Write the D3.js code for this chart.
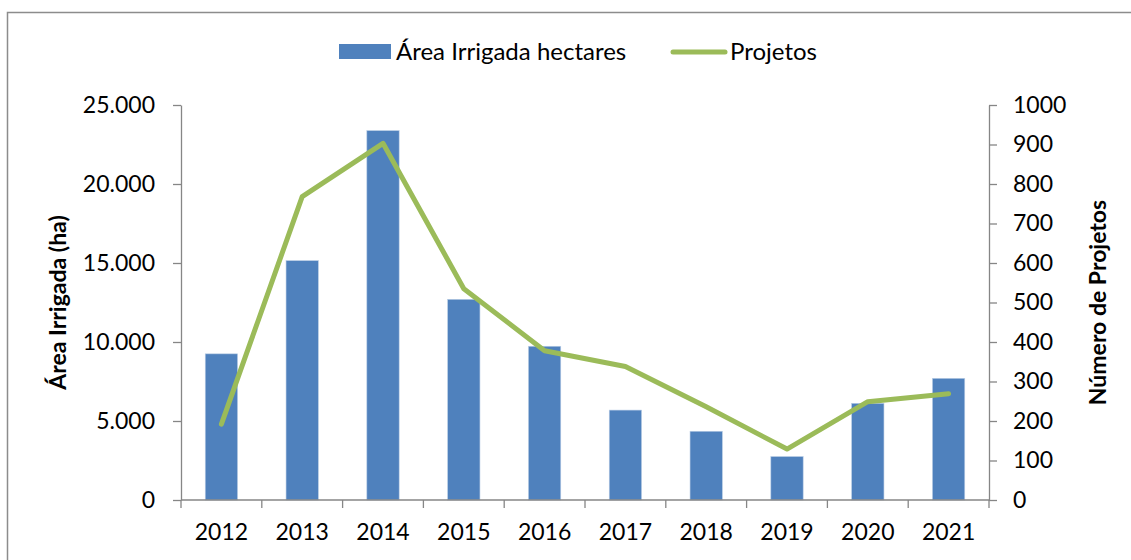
<meta charset="utf-8">
<style>
  body { margin: 0; background: #fff; }
  svg text { font-family: Lato, "Open Sans", sans-serif; fill: #000; }
  .axis path, .axis line { stroke: #868686; stroke-width: 1.3px; }
  .axis text { font-size: 23px; font-family: Lato, "Open Sans", sans-serif; }
  .ytitle { font-size: 23px; font-weight: bold; }
  .legend text { font-size: 24px; }
</style>
<div id="chart"></div>
<script src="https://d3js.org/d3.v7.min.js"></script>
<script>
var years = ["2012", "2013", "2014", "2015", "2016", "2017", "2018", "2019", "2020", "2021"];
var areaHa = [9250, 15150, 23380, 12700, 9730, 5690, 4350, 2750, 6120, 7700];
var projetos = [192, 768, 903, 535, 378, 338, 236, 129, 249, 269];
var areaTicks = [0, 5000, 10000, 15000, 20000, 25000];
var projTicks = [0, 100, 200, 300, 400, 500, 600, 700, 800, 900, 1000];

var W = 1131, H = 560;
var margin = {top: 105, right: 142, bottom: 60, left: 181};
var width = W - margin.left - margin.right,
    height = H - margin.top - margin.bottom;

var svg = d3.select("#chart").append("svg")
    .attr("width", W)
    .attr("height", H);

// outer frame (runs off the picture at right and bottom)
svg.append("rect")
    .attr("x", 7.5).attr("y", 12.5)
    .attr("width", W + 20).attr("height", H + 20)
    .attr("fill", "none")
    .attr("stroke", "#8c8c8c")
    .attr("stroke-width", 1.5);

var g = svg.append("g")
    .attr("transform", "translate(" + margin.left + "," + margin.top + ")");

var x = d3.scaleBand().domain(years).range([0, width]);
var yL = d3.scaleLinear().domain([0, 25000]).range([height, 0]);
var yR = d3.scaleLinear().domain([0, 1000]).range([height, 0]);

var fmt = function (d) { return d === 0 ? "0" : d3.format(",")(d).replace(/,/g, "."); };

// bars
var barW = x.bandwidth() / 2.5;
g.selectAll("rect.bar")
    .data(years)
    .enter().append("rect")
    .attr("class", "bar")
    .attr("x", function (d) { return x(d) + (x.bandwidth() - barW) / 2; })
    .attr("y", function (d, i) { return yL(areaHa[i]); })
    .attr("width", barW)
    .attr("height", function (d, i) { return height - yL(areaHa[i]); })
    .attr("fill", "#4f81bd")
    .attr("stroke", "#b9cde5")
    .attr("stroke-width", 0.6);

// axes
var xAxis = g.append("g")
    .attr("class", "axis")
    .attr("transform", "translate(0," + height + ")")
    .call(d3.axisBottom(x).tickSize(0).tickPadding(18));
xAxis.select(".domain").attr("d", "M0,0H" + width);
xAxis.selectAll(".tick text").attr("dy", "0.95em");
// category boundaries
xAxis.selectAll("line.sep")
    .data(d3.range(years.length + 1))
    .enter().append("line")
    .attr("class", "sep")
    .attr("x1", function (i) { return i * x.step(); })
    .attr("x2", function (i) { return i * x.step(); })
    .attr("y1", 0).attr("y2", 8);

g.append("g")
    .attr("class", "axis")
    .call(d3.axisLeft(yL).tickValues(areaTicks).tickFormat(fmt).tickSize(8).tickSizeOuter(0).tickPadding(18));

g.append("g")
    .attr("class", "axis")
    .attr("transform", "translate(" + width + ",0)")
    .call(d3.axisRight(yR).tickValues(projTicks).tickFormat(d3.format("d")).tickSize(8).tickSizeOuter(0).tickPadding(16));

// line
var line = d3.line()
    .x(function (d, i) { return x(years[i]) + x.bandwidth() / 2; })
    .y(function (d) { return yR(d); });

g.append("path")
    .datum(projetos)
    .attr("d", line)
    .attr("fill", "none")
    .attr("stroke", "#9bbb59")
    .attr("stroke-width", 5)
    .attr("stroke-linejoin", "round")
    .attr("stroke-linecap", "round");

// axis titles
svg.append("text")
    .attr("class", "ytitle")
    .attr("transform", "translate(66," + (margin.top + height / 2) + ") rotate(-90)")
    .attr("text-anchor", "middle")
    .text("Área Irrigada (ha)");

svg.append("text")
    .attr("class", "ytitle")
    .attr("transform", "translate(1106," + (margin.top + height / 2) + ") rotate(-90)")
    .attr("text-anchor", "middle")
    .text("Número de Projetos");

// legend
var legend = svg.append("g").attr("class", "legend");
legend.append("rect")
    .attr("x", 339).attr("y", 44)
    .attr("width", 52).attr("height", 15)
    .attr("fill", "#4f81bd");
legend.append("text")
    .attr("x", 396).attr("y", 60)
    .text("Área Irrigada hectares");
legend.append("line")
    .attr("x1", 673).attr("x2", 725)
    .attr("y1", 52).attr("y2", 52)
    .attr("stroke", "#9bbb59")
    .attr("stroke-width", 5)
    .attr("stroke-linecap", "round");
legend.append("text")
    .attr("x", 730).attr("y", 60)
    .text("Projetos");
</script>
